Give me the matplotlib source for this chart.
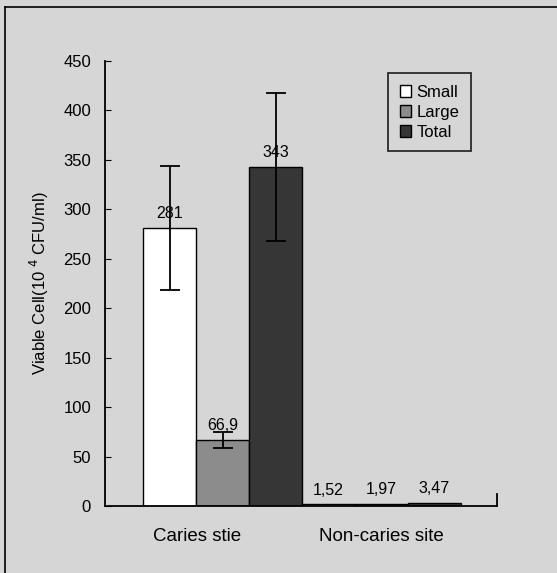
import matplotlib.pyplot as plt
from matplotlib.patches import Patch
from matplotlib.lines import Line2D

plt.rcParams['font.family'] = ['Liberation Sans', 'DejaVu Sans']

sites = ['Caries stie', 'Non-caries site']
sizes = ['Small', 'Large', 'Total']
caries = [281, 66.9, 343]
caries_err = [63, 8, 75]
non_caries = [1.52, 1.97, 3.47]
non_caries_err = [0, 0, 0]
value_labels = ['281', '66,9', '343', '1,52', '1,97', '3,47']
colors = ['white', '#8c8c8c', '#363636']

fig = plt.figure(figsize=(5.57, 5.73), dpi=100)
fig.patch.set_facecolor('#d6d6d6')
# frame lines at top and left of the picture
fig.lines.append(Line2D([5 / 557, 5 / 557], [0, 1 - 7 / 573], transform=fig.transFigure,
                        color='black', linewidth=1.2))
fig.lines.append(Line2D([5 / 557, 1], [1 - 7 / 573, 1 - 7 / 573], transform=fig.transFigure,
                        color='black', linewidth=1.2))
ax = fig.add_axes([105 / 557, 1 - 506 / 573, 392 / 557, 445 / 573])
ax.set_facecolor('none')

values = caries + non_caries
errs = caries_err + non_caries_err
xs = list(range(6))
for i, (v, e) in enumerate(zip(values, errs)):
    ax.bar(xs[i], v, width=1.0, color=colors[i % 3], edgecolor='black', linewidth=1.0)
    if e:
        ax.errorbar(xs[i], v, yerr=e, color='black', capsize=7, elinewidth=1.3, capthick=1.3)
    ax.text(xs[i], v + 7, value_labels[i], ha='center', va='bottom', fontsize=11.5)

ax.set_xlim(-1.22, 6.18)
ax.set_ylim(0, 450)
ax.set_yticks(range(0, 451, 50))
ax.tick_params(axis='y', labelsize=12, direction='in', length=4, pad=10)
ax.set_xticks([0.52, 3.99])
ax.set_xticklabels(sites, fontsize=13.5)
ax.tick_params(axis='x', length=0, pad=16)
ax.spines['top'].set_visible(False)
ax.spines['right'].set_visible(False)
ax.spines['left'].set_linewidth(1.3)
ax.spines['bottom'].set_linewidth(1.3)
ax.axvline(6.18, ymin=0, ymax=0.027, color='black', linewidth=1.3, clip_on=False)
ax.set_ylabel('Viable Cell(10 $^4$ CFU/ml)', fontsize=12, labelpad=9)

handles = [Patch(facecolor=c, edgecolor='black', label=s) for c, s in zip(colors, sizes)]
leg = ax.legend(handles=handles, loc='upper right', bbox_to_anchor=(0.933, 0.973), fontsize=12,
                frameon=True, fancybox=False, edgecolor='black', handlelength=0.7,
                handleheight=0.7, handletextpad=0.3, labelspacing=0.3, borderpad=0.7,
                borderaxespad=0)
leg.get_frame().set_linewidth(1.3)
leg.get_frame().set_facecolor('none')

fig.savefig('out.png', dpi=100, facecolor=fig.get_facecolor())
